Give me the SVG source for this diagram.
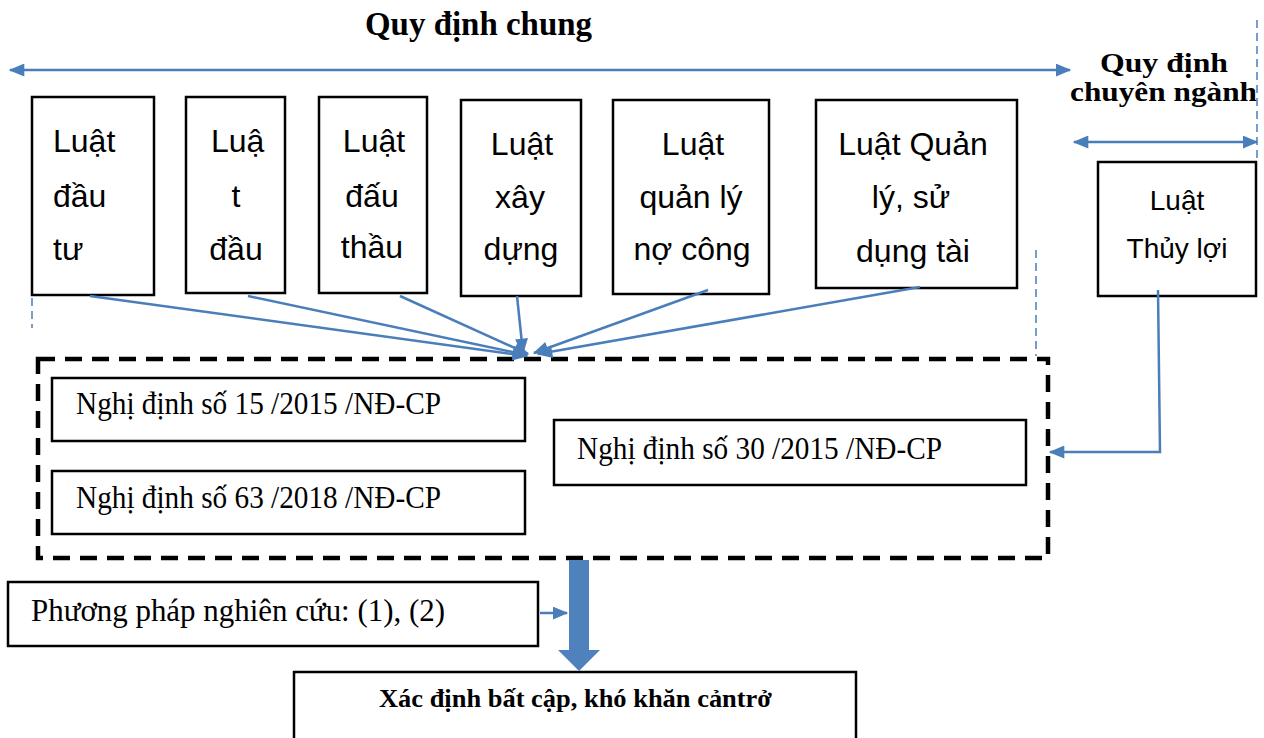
<svg xmlns="http://www.w3.org/2000/svg" width="1264" height="738" viewBox="0 0 1264 738">
<style>
.box{fill:#fff;stroke:#000;stroke-width:2.5}
.sans{font-family:"Liberation Sans",Arial,sans-serif;fill:#000}
.serif{font-family:"Liberation Serif","Times New Roman",serif;fill:#000}
.bold{font-weight:bold}
.conn{stroke:#4a7ebb;stroke-width:2.5;fill:none}
.blued{stroke:#4a7ebb;stroke-width:1.5;stroke-dasharray:8 5;fill:none}
</style>
<defs>
<marker id="ah" viewBox="0 0 12 10" refX="11" refY="5" markerWidth="16" markerHeight="13" markerUnits="userSpaceOnUse" orient="auto-start-reverse">
<path d="M0,0 L12,5 L0,10 Z" fill="#4a7ebb"/>
</marker>
</defs>
<rect width="1264" height="738" fill="#fff"/>

<g id="title">
<text class="serif bold" x="365" y="35" font-size="34" textLength="227" lengthAdjust="spacingAndGlyphs">Quy định chung</text>
</g>
<g id="title2">
<text class="serif bold" x="1100" y="72" font-size="28" textLength="128" lengthAdjust="spacingAndGlyphs">Quy định</text>
<text class="serif bold" x="1070" y="101" font-size="28" textLength="187" lengthAdjust="spacingAndGlyphs">chuyên ngành</text>
</g>

<g id="n1">
<rect class="box" x="32" y="97" width="122" height="198"/>
<text class="sans" x="53" y="152" font-size="32">Luật</text>
<text class="sans" x="53" y="207" font-size="32">đầu</text>
<text class="sans" x="53" y="260" font-size="32">tư</text>
</g>
<g id="n2">
<rect class="box" x="186" y="97" width="99" height="196"/>
<text class="sans" x="211" y="152" font-size="32">Luậ</text>
<text class="sans" x="236" y="207" font-size="32" text-anchor="middle">t</text>
<text class="sans" x="236" y="260" font-size="32" text-anchor="middle">đầu</text>
</g>
<g id="n3">
<rect class="box" x="319" y="97" width="108" height="196"/>
<text class="sans" x="374" y="152" font-size="32" text-anchor="middle">Luật</text>
<text class="sans" x="372" y="207" font-size="32" text-anchor="middle">đấu</text>
<text class="sans" x="372" y="258" font-size="32" text-anchor="middle">thầu</text>
</g>
<g id="n4">
<rect class="box" x="461" y="100" width="120" height="196"/>
<text class="sans" x="522" y="155" font-size="32" text-anchor="middle">Luật</text>
<text class="sans" x="520" y="208" font-size="32" text-anchor="middle">xây</text>
<text class="sans" x="521" y="260" font-size="32" text-anchor="middle">dựng</text>
</g>
<g id="n5">
<rect class="box" x="613" y="100" width="156" height="194"/>
<text class="sans" x="693" y="155" font-size="32" text-anchor="middle">Luật</text>
<text class="sans" x="691" y="208" font-size="32" text-anchor="middle">quản lý</text>
<text class="sans" x="692" y="260" font-size="32" text-anchor="middle">nợ công</text>
</g>
<g id="n6">
<rect class="box" x="816" y="100" width="201" height="188"/>
<text class="sans" x="913" y="155" font-size="32" text-anchor="middle">Luật Quản</text>
<text class="sans" x="911" y="208" font-size="32" text-anchor="middle">lý, sử</text>
<text class="sans" x="913" y="262" font-size="32" text-anchor="middle">dụng tài</text>
</g>
<g id="n7">
<rect class="box" x="1098" y="162" width="158" height="134"/>
<text class="sans" x="1177" y="210" font-size="28" text-anchor="middle">Luật</text>
<text class="sans" x="1177" y="258" font-size="28" text-anchor="middle">Thủy lợi</text>
</g>

<g id="group-nd">
<rect x="38" y="359" width="1010" height="199" fill="none" stroke="#000" stroke-width="4.5" stroke-dasharray="17 10"/>
</g>
<g id="nd15">
<rect class="box" x="52" y="378" width="473" height="63"/>
<text class="serif" x="76" y="414" font-size="31" textLength="365" lengthAdjust="spacingAndGlyphs">Nghị định số 15 /2015 /NĐ-CP</text>
</g>
<g id="nd63">
<rect class="box" x="52" y="471" width="473" height="63"/>
<text class="serif" x="76" y="508" font-size="31" textLength="365" lengthAdjust="spacingAndGlyphs">Nghị định số 63 /2018 /NĐ-CP</text>
</g>
<g id="nd30">
<rect class="box" x="554" y="420" width="472" height="65"/>
<text class="serif" x="577" y="459" font-size="31" textLength="365" lengthAdjust="spacingAndGlyphs">Nghị định số 30 /2015 /NĐ-CP</text>
</g>

<g id="pp">
<rect class="box" x="8" y="582" width="530" height="64"/>
<text class="serif" x="31" y="621" font-size="31" textLength="414" lengthAdjust="spacingAndGlyphs">Phương pháp nghiên cứu: (1), (2)</text>
</g>
<g id="result">
<rect class="box" x="294" y="672" width="562" height="80"/>
<text class="serif bold" x="379" y="707" font-size="26" textLength="393" lengthAdjust="spacingAndGlyphs">Xác định bất cập, khó khăn cảntrở</text>
</g>

<g id="connectors">
<line class="conn" x1="10" y1="70" x2="1070" y2="70" marker-start="url(#ah)" marker-end="url(#ah)"/>
<line class="conn" x1="1074" y1="142" x2="1257" y2="142" marker-start="url(#ah)" marker-end="url(#ah)"/>
<line class="blued" x1="1257" y1="20" x2="1257" y2="160"/>
<line class="blued" x1="32" y1="298" x2="32" y2="328"/>
<line class="blued" x1="1036" y1="250" x2="1036" y2="356"/>
<line class="conn" x1="90" y1="296" x2="527" y2="356" marker-end="url(#ah)"/>
<line class="conn" x1="248" y1="296" x2="527" y2="355" marker-end="url(#ah)"/>
<line class="conn" x1="400" y1="296" x2="528" y2="354" marker-end="url(#ah)"/>
<line class="conn" x1="517" y1="296" x2="523" y2="353" marker-end="url(#ah)"/>
<line class="conn" x1="708" y1="290" x2="534" y2="353" marker-end="url(#ah)"/>
<line class="conn" x1="920" y1="287" x2="538" y2="354" marker-end="url(#ah)"/>
<polyline class="conn" points="1158,290 1160,452 1050,452" marker-end="url(#ah)"/>
<line class="conn" x1="540" y1="613" x2="567" y2="613" marker-end="url(#ah)"/>
<polygon points="569,560 589,560 589,650 600,650 579,671 558,650 569,650" fill="#4f81bd"/>
</g>
</svg>
